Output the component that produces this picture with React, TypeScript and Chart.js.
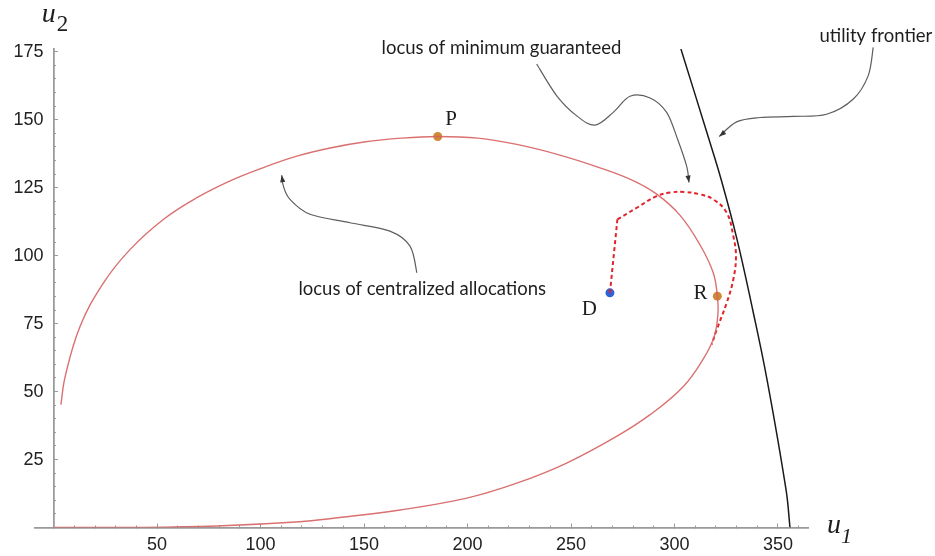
import React, { useEffect, useRef } from 'react';
import { Chart, registerables } from 'chart.js';

Chart.register(...registerables);

// ---- axis ticks ----
const xTickLabels = [50, 100, 150, 200, 250, 300, 350];
const yTickLabels = [25, 50, 75, 100, 125, 150, 175];
const X_MAJOR_STEP = 50;
const X_MINOR_STEP = 10;
const Y_MAJOR_STEP = 25;
const Y_MINOR_STEP = 5;

// ---- curves (u1, u2) ----
const centralizedLocus: [number, number][] = [
  [3.5, 45.2], [5.6, 55.6], [12.8, 74], [24.1, 90], [37, 102.3], [53, 113.3], [69.2, 121.3],
  [85.3, 127.5], [101.4, 132.4], [117.5, 136.6], [133.6, 139.6], [150, 141.8], [168, 143.2],
  [185.6, 143.8], [205, 143.2], [223.8, 140.9], [245, 136.9], [264, 132.3], [280, 127.6],
  [291.4, 122.6], [302.7, 114.8], [312.3, 104], [318.7, 93.7], [320.7, 85.1], [321, 78.8],
  [319.2, 70.3], [314.3, 62.5], [304.3, 51.9], [288.2, 41.5], [272, 33.5], [247.9, 23.7],
  [223.8, 16.3], [199.6, 10.8], [167.4, 6.45], [135.2, 3.4], [119, 2.1], [78.8, 0.55],
  [38.5, 0], [0, 0],
];

const guaranteedStem: [number, number][] = [[268.8, 86.3], [272.4, 113.3]];
const guaranteedLocus: [number, number][] = [
  [272.4, 113.3], [282, 117.7], [291.4, 121.9], [298, 123.2], [305, 123.4], [312, 122.6],
  [318.7, 120.7], [325.2, 115.8], [328.4, 107.2], [329.7, 99.8], [328.4, 91.2], [325.2, 82.6],
  [320.4, 72.8], [318, 67.3],
];

const utilityFrontier: [number, number][] = [
  [303.1, 176], [316.2, 143.9], [322.5, 128.1], [330.2, 106], [337.8, 80], [344.7, 54.4],
  [353.9, 13.8], [355.8, 0],
];

// ---- labelled points ----
const pointP: [number, number] = [185.6, 143.8];
const pointR: [number, number] = [320.7, 85.1];
const pointD: [number, number] = [268.8, 86.3];

// ---- annotation arrows (data coords) ----
const arrowCentralized: [number, number][] = [
  [175.5, 93.7], [172.2, 103.5], [162.5, 109], [143.2, 112.1], [123.9, 115.2], [114.2, 120.7],
  [111, 125.6], [110.2, 129.6],
];
const arrowGuaranteed: [number, number][] = [
  [233.4, 170.5], [243.1, 158.8], [252.8, 151.4], [261.6, 148], [270.4, 152.7], [278.5, 158.6],
  [288.2, 158], [296.2, 152.7], [301.4, 143], [305.9, 132.8], [307, 126.9],
];
const arrowFrontier: [number, number][] = [
  [396, 176.6], [393.6, 166.2], [386.4, 157.6], [373.5, 152], [357.4, 151.2], [341.3, 150.8],
  [330, 149.2], [321.6, 143.8],
];

const X_MIN = -9;
const X_MAX = 364.5;
const Y_MIN = 0;
const Y_MAX = 176;

const toXY = (arr: [number, number][]) => arr.map(([x, y]) => ({ x, y }));

// tick positions: multiples of the step from 0 up to the axis maximum
function stepTicks(step: number, max: number) {
  const out: { value: number }[] = [];
  for (let v = 0; v <= max + 1e-9; v += step) out.push({ value: v });
  return out;
}

function drawSmooth(ctx: CanvasRenderingContext2D, pts: number[][]) {
  ctx.beginPath();
  ctx.moveTo(pts[0][0], pts[0][1]);
  for (let i = 0; i < pts.length - 1; i++) {
    const p0 = pts[i - 1] || pts[i];
    const p1 = pts[i];
    const p2 = pts[i + 1];
    const p3 = pts[i + 2] || p2;
    ctx.bezierCurveTo(
      p1[0] + (p2[0] - p0[0]) / 6, p1[1] + (p2[1] - p0[1]) / 6,
      p2[0] - (p3[0] - p1[0]) / 6, p2[1] - (p3[1] - p1[1]) / 6,
      p2[0], p2[1]
    );
  }
  ctx.stroke();
}

function drawHead(ctx: CanvasRenderingContext2D, from: number[], to: number[]) {
  const ang = Math.atan2(to[1] - from[1], to[0] - from[0]);
  const len = 7, hw = 2.6;
  ctx.beginPath();
  ctx.moveTo(to[0], to[1]);
  ctx.lineTo(to[0] - len * Math.cos(ang) + hw * Math.sin(ang), to[1] - len * Math.sin(ang) - hw * Math.cos(ang));
  ctx.lineTo(to[0] - len * Math.cos(ang) - hw * Math.sin(ang), to[1] - len * Math.sin(ang) + hw * Math.cos(ang));
  ctx.closePath();
  ctx.fill();
}

const annotationPlugin = {
  id: 'annotations',
  afterDraw(chart: any) {
    const { ctx } = chart;
    const xs = chart.scales.x;
    const ys = chart.scales.y;
    const px = (p: [number, number]) => [xs.getPixelForValue(p[0]), ys.getPixelForValue(p[1])];
    ctx.save();
    ctx.strokeStyle = '#5e5e5e';
    ctx.fillStyle = '#333';
    ctx.lineWidth = 1.2;
    for (const a of [arrowCentralized, arrowGuaranteed, arrowFrontier]) {
      const pts = a.map(px);
      drawSmooth(ctx, pts);
      drawHead(ctx, pts[pts.length - 2], pts[pts.length - 1]);
    }

    ctx.fillStyle = '#1e1e1e';
    ctx.font = '18.5px Lato';
    ctx.textAlign = 'center';
    ctx.textBaseline = 'alphabetic';
    let p = px([216.4, 174.2]);
    ctx.fillText('locus of minimum guaranteed', p[0], p[1]);
    p = px([397.3, 178.7]);
    ctx.fillText('utility frontier', p[0], p[1]);
    p = px([178.1, 85.7]);
    ctx.fillText('locus of centralized allocations', p[0], p[1]);

    ctx.font = '21px "Liberation Serif"';
    ctx.textBaseline = 'middle';
    p = px([192, 150.2]);
    ctx.fillText('P', p[0], p[1]);
    p = px([312.6, 86.1]);
    ctx.fillText('R', p[0], p[1]);
    p = px([258.9, 80.2]);
    ctx.fillText('D', p[0], p[1]);

    // axis titles
    ctx.textAlign = 'left';
    ctx.textBaseline = 'alphabetic';
    const x0 = xs.getPixelForValue(0);
    const y0 = ys.getPixelForValue(0);
    ctx.font = 'italic 28px "Liberation Serif"';
    ctx.fillText('u', x0 - 12, ys.top - 27);
    ctx.font = '23px "Liberation Serif"';
    ctx.fillText('2', x0 + 3, ys.top - 18);
    ctx.font = 'italic 28px "Liberation Serif"';
    ctx.fillText('u', xs.right + 19, y0 + 5.5);
    ctx.font = 'italic 22px "Liberation Serif"';
    ctx.fillText('1', xs.right + 33, y0 + 15.5);
    ctx.restore();
  },
};

export default function App() {
  const ref = useRef<HTMLCanvasElement | null>(null);

  useEffect(() => {
    if (!ref.current) return;
    const tickFont = { family: '"Liberation Sans", Arial, sans-serif', size: 18 };
    const axisGrey = '#9a9a9a';
    const chart = new Chart(ref.current, {
      type: 'scatter',
      data: {
        datasets: [
          {
            data: toXY(centralizedLocus), showLine: true, pointRadius: 0,
            borderColor: 'rgba(214, 96, 96, 0.9)', borderWidth: 1.4, tension: 0.4,
          },
          {
            data: toXY(utilityFrontier), showLine: true, pointRadius: 0,
            borderColor: '#1a1a1a', borderWidth: 1.5, tension: 0.4,
          },
          {
            data: toXY(guaranteedStem), showLine: true, pointRadius: 0,
            borderColor: '#e0242a', borderWidth: 2, borderDash: [4, 3], tension: 0,
          },
          {
            data: toXY(guaranteedLocus), showLine: true, pointRadius: 0,
            borderColor: '#e0242a', borderWidth: 2, borderDash: [4, 3], tension: 0.4,
          },
          {
            data: toXY([pointP, pointR]), pointRadius: 4.5, pointBorderWidth: 0,
            pointBackgroundColor: '#cf8a37', showLine: false,
          },
          {
            data: toXY([pointD]), pointRadius: 4.5, pointBorderWidth: 0,
            pointBackgroundColor: '#2f62d6', showLine: false,
          },
        ],
      },
      options: {
        animation: false,
        responsive: true,
        maintainAspectRatio: false,
        layout: { padding: { left: 35, right: 127, top: 49, bottom: 28.5 } },
        plugins: { legend: { display: false }, tooltip: { enabled: false } },
        scales: {
          x: {
            type: 'linear', min: X_MIN, max: X_MAX, bounds: 'data', position: { y: 0 },
            afterBuildTicks: (s: any) => { s.ticks = stepTicks(X_MAJOR_STEP, X_MAX); },
            grid: { drawOnChartArea: false, tickLength: -5, tickColor: axisGrey, tickWidth: 1 },
            border: { color: axisGrey, width: 1.5 },
            ticks: {
              autoSkip: false, maxRotation: 0, padding: 12,
              color: '#222', font: tickFont,
              callback: (v: any) => (xTickLabels.includes(Number(v)) ? String(v) : ''),
            },
          },
          xm: {
            type: 'linear', axis: 'x', min: X_MIN, max: X_MAX, bounds: 'data', position: { y: 0 },
            afterBuildTicks: (s: any) => { s.ticks = stepTicks(X_MINOR_STEP, X_MAX); },
            grid: { drawOnChartArea: false, tickLength: -3, tickColor: axisGrey, tickWidth: 1 },
            border: { color: axisGrey, width: 1.5 },
            ticks: { autoSkip: false, maxRotation: 0, callback: () => '' },
          },
          y: {
            type: 'linear', min: Y_MIN, max: Y_MAX, bounds: 'data', position: { x: 0 },
            afterBuildTicks: (s: any) => { s.ticks = stepTicks(Y_MAJOR_STEP, Y_MAX); },
            grid: { drawOnChartArea: false, tickLength: -5, tickColor: axisGrey, tickWidth: 1 },
            border: { color: axisGrey, width: 1.5 },
            ticks: {
              autoSkip: false, padding: 10,
              color: '#222', font: tickFont,
              callback: (v: any) => (yTickLabels.includes(Number(v)) ? String(v) + '  ' : ''),
            },
          },
          ym: {
            type: 'linear', axis: 'y', min: Y_MIN, max: Y_MAX, bounds: 'data', position: { x: 0 },
            afterBuildTicks: (s: any) => { s.ticks = stepTicks(Y_MINOR_STEP, Y_MAX); },
            grid: { drawOnChartArea: false, tickLength: -3, tickColor: axisGrey, tickWidth: 1 },
            border: { color: axisGrey, width: 1.5 },
            ticks: { autoSkip: false, callback: () => '' },
          },
        },
      } as any,
      plugins: [annotationPlugin],
    });
    return () => chart.destroy();
  }, []);

  return (
    <div style={{ position: 'fixed', left: 0, top: 0, width: 935, height: 556, background: '#fff' }}>
      <canvas ref={ref} />
    </div>
  );
}
